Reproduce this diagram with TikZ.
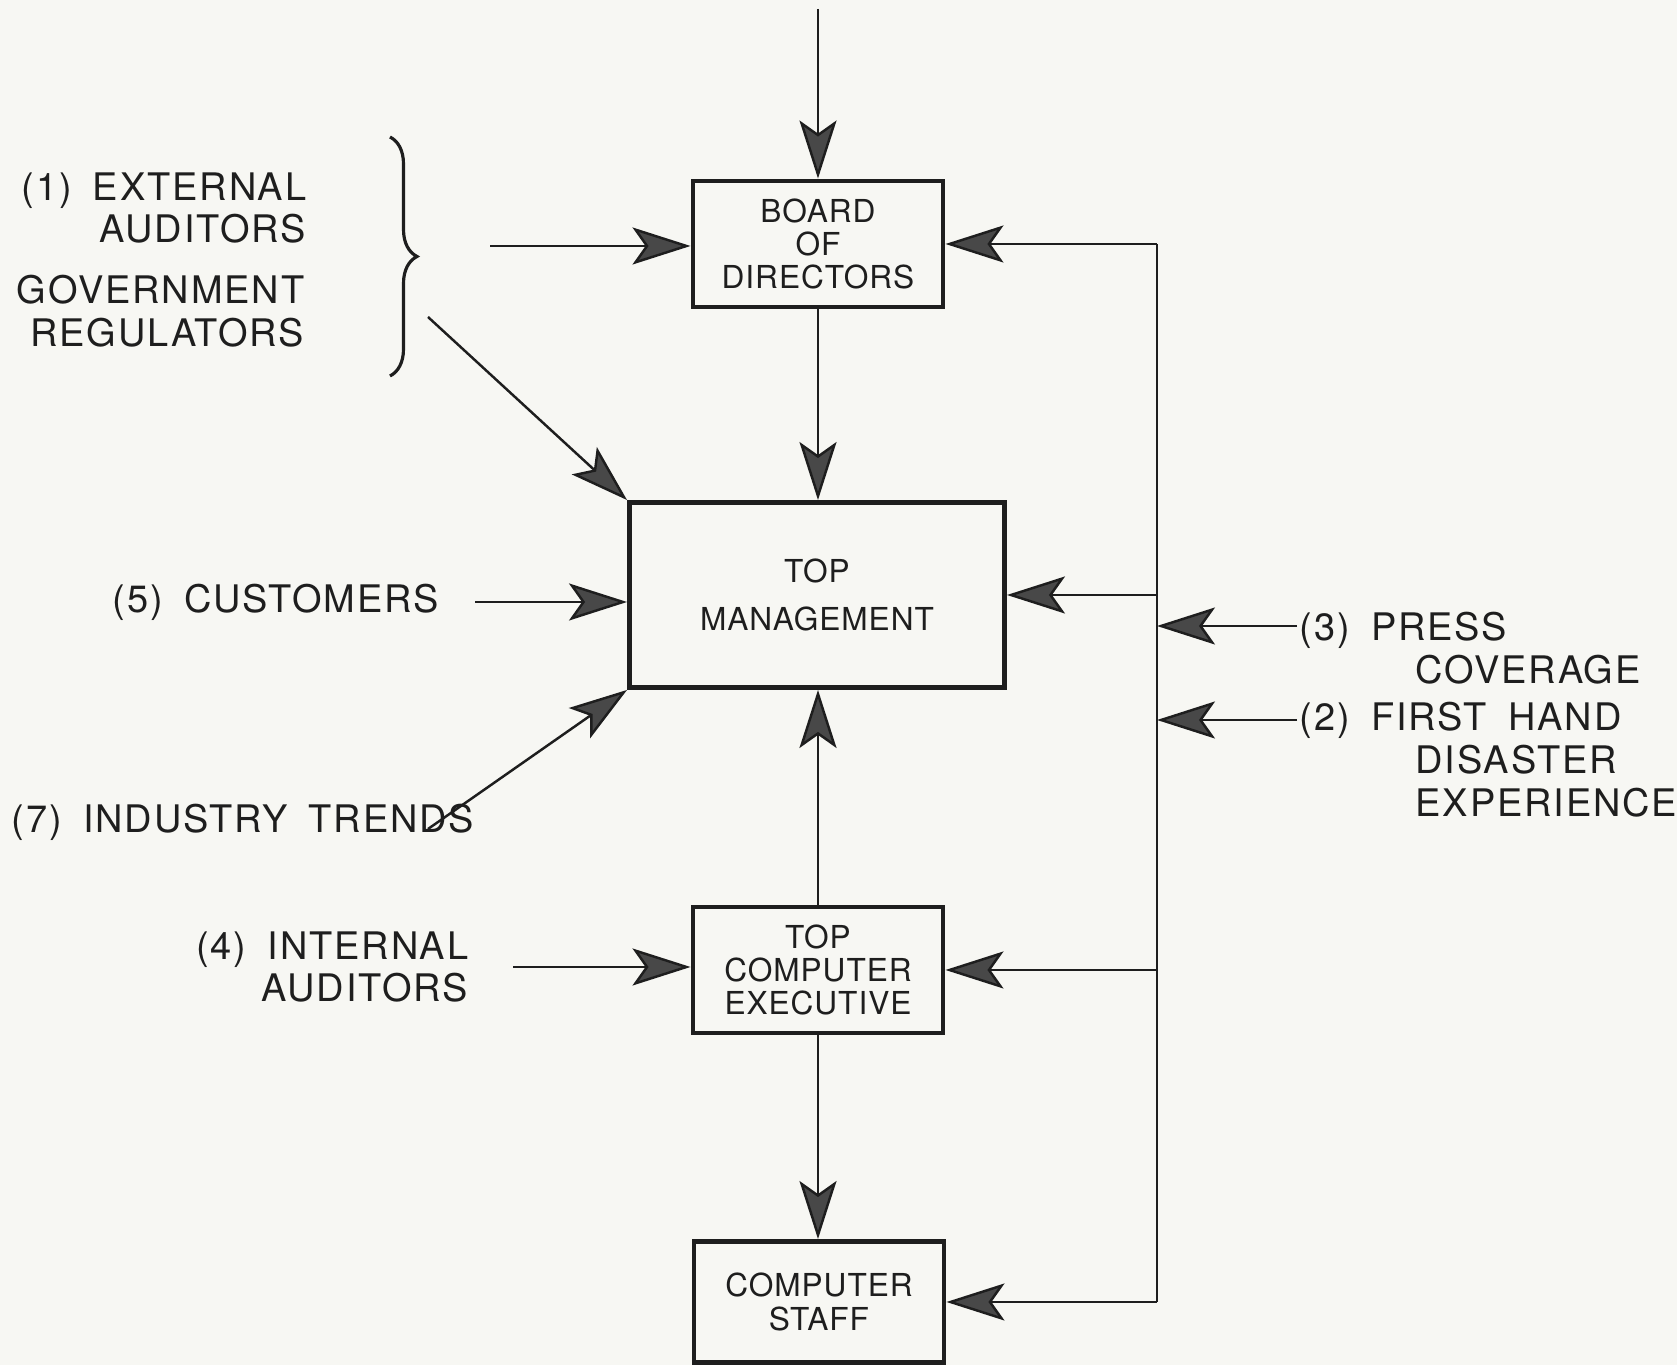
\documentclass[tikz,border=0pt]{standalone}
\usepackage{fontspec}
\setmainfont{TeX Gyre Heros}
\newfontfamily\labelfont[LetterSpace=5,WordSpace=1.7]{TeX Gyre Heros}
\newfontfamily\boxfont[LetterSpace=3]{TeX Gyre Heros}
\usetikzlibrary{arrows.meta,decorations.pathreplacing}
\definecolor{paper}{RGB}{247,247,243}
\definecolor{ink}{RGB}{30,30,30}
\definecolor{headfill}{RGB}{72,72,72}

\begin{document}
\begin{tikzpicture}[x=0.1mm,y=-0.1mm]

  \tikzset{
    unit/.style={draw=ink, line width=1.4pt, minimum width=25mm, minimum height=12.6mm,
      align=center, inner sep=0pt, text=ink, font=\boxfont\fontsize{9}{9.5}\selectfont},
    source/.style={inner sep=0pt, text=ink, font=\labelfont\fontsize{10.8}{12.2}\selectfont},
    wire/.style={draw=ink, line width=0.7pt},
    flow/.style={wire, -{Stealth[length=5.8mm, width=3.7mm, inset=1.3mm, fill=headfill]}},
  }

  \fill[paper] (0,0) rectangle (1677,1365);
  \useasboundingbox (0,0) rectangle (1677,1365);

  \node[unit] (board) at (818,244) {BOARD\\OF\\DIRECTORS};
  \node[unit, minimum width=37.5mm, minimum height=18.5mm] (topmgmt) at (817,595) {TOP\\[4pt]MANAGEMENT};
  \node[unit] (tcexec) at (818,970) {TOP\\COMPUTER\\EXECUTIVE};
  \node[unit, minimum height=12.1mm] (staff) at (819,1302) {COMPUTER\\STAFF};

  \node[source, align=right, anchor=east] (ext) at (307,208) {(1) EXTERNAL\\AUDITORS};
  \node[source, align=right, anchor=east] (gov) at (305,311) {GOVERNMENT\\REGULATORS};
  \node[source, anchor=east] (cust) at (440,602) {(5) CUSTOMERS};
  \node[source, anchor=west] (trends) at (11,822) {(7) INDUSTRY TRENDS};
  \node[source, align=right, anchor=east] (intaud) at (469,967) {(4) INTERNAL\\AUDITORS};
  \node[source, align=left, anchor=west] (press) at (1299,648) {(3) PRESS\\\hspace*{11.6mm}COVERAGE};
  \node[source, align=left, anchor=west] (firsthand) at (1299,760) {(2) FIRST HAND\\\hspace*{11.6mm}DISASTER\\\hspace*{11.6mm}EXPERIENCE};

  \coordinate (topin) at (818,9);
  \coordinate (bracetop) at (390,137);
  \coordinate (bracebot) at (390,376);
  \coordinate (braceout) at (490,246);
  \coordinate (bracediag) at (428,317);
  \coordinate (trendsout) at (428,829);
  \coordinate (pressout) at (1297,626);
  \coordinate (firstout) at (1297,720);
  \coordinate (bustop) at (1157,244);
  \coordinate (busbot) at (1157,1302);

  \draw[ink, line width=0.9pt, decorate, decoration={brace, amplitude=2.7mm}] (bracetop) -- (bracebot);

  \draw[flow] (topin) -- (board.north);
  \draw[flow] (braceout) -- (braceout -| board.west);
  \draw[flow] (bracediag) -- (topmgmt.north west);
  \draw[flow] (cust.east) ++(3.5mm,0) -- (topmgmt.west |- cust.east);
  \draw[flow] (trendsout) -- (topmgmt.south west);
  \draw[flow] (intaud.east) ++(4.4mm,0) -- (tcexec.west |- intaud.east);

  \draw[flow] (board.south) -- (topmgmt.north -| board.south);
  \draw[flow] (tcexec.north) -- (topmgmt.south -| tcexec.north);
  \draw[flow] (tcexec.south) -- (staff.north -| tcexec.south);

  \draw[wire] (bustop) -- (busbot);
  \draw[flow] (bustop) -- (board.east);
  \draw[flow] (bustop |- topmgmt.east) -- (topmgmt.east);
  \draw[flow] (bustop |- tcexec.east) -- (tcexec.east);
  \draw[flow] (busbot) -- (staff.east);
  \draw[flow] (pressout) -- (pressout -| bustop);
  \draw[flow] (firstout) -- (firstout -| bustop);

\end{tikzpicture}
\end{document}
